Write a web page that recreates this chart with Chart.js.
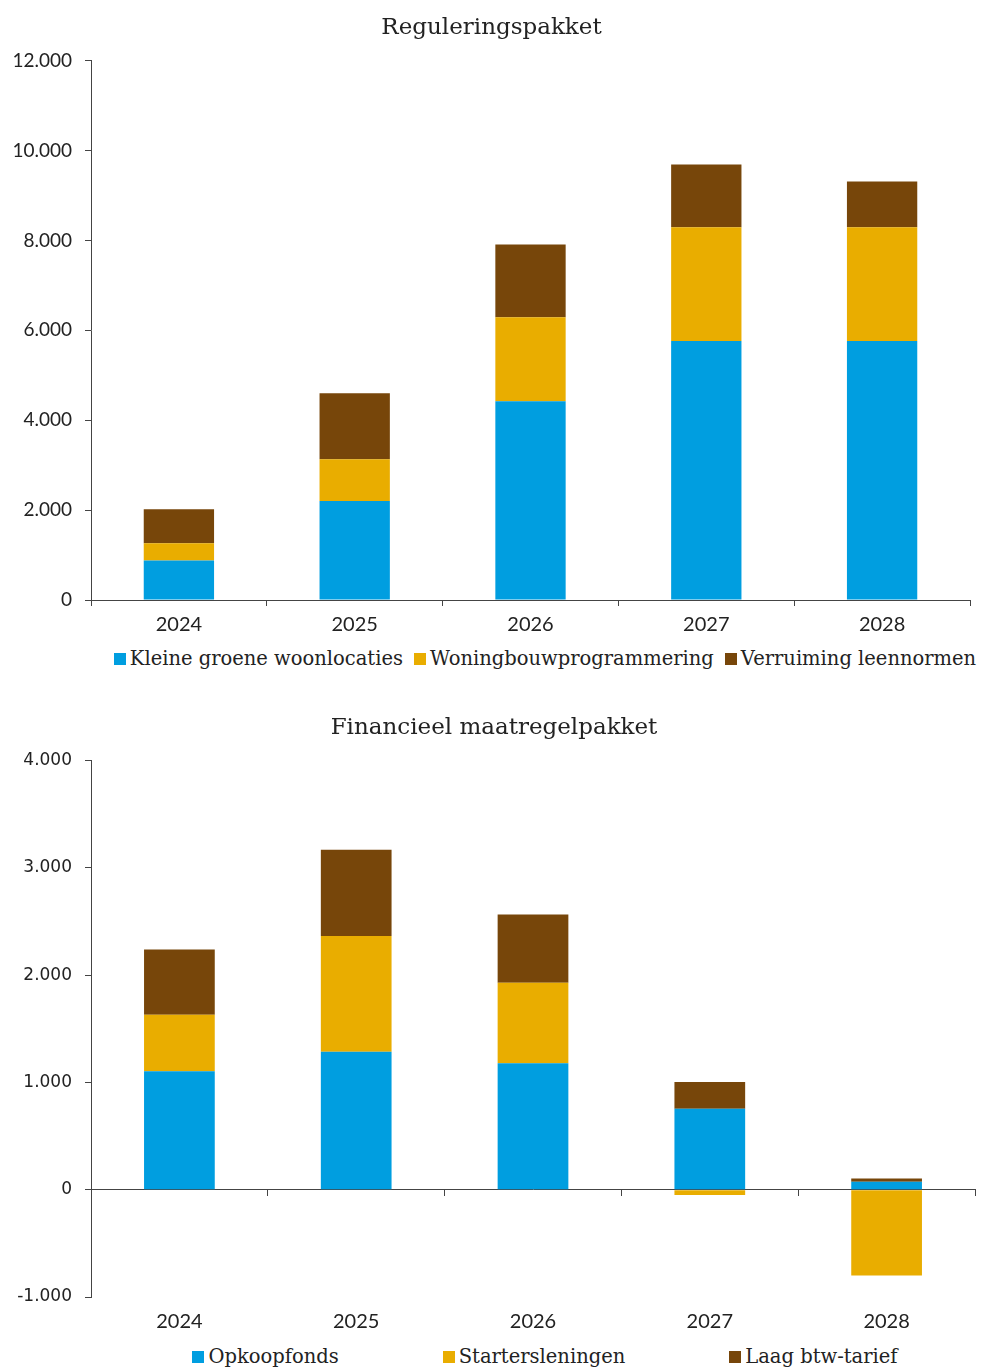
<!DOCTYPE html>
<html lang="nl">
<head>
  <meta charset="UTF-8">
  <title>Reguleringspakket en financieel maatregelpakket</title>
  <script src="https://cdn.jsdelivr.net/npm/chart.js"></script>
  <style>
    body {
      margin: 0;
      padding: 0;
      background: #fff;
      width: 981px;
      overflow: hidden;
    }
    .box {
      position: relative;
      width: 981px;
    }
    .legend {
      display: flex;
      justify-content: center;
      margin-left: 109px;
      font-family: "DejaVu Serif", serif;
      font-size: 19.5px;
      color: #222;
      white-space: nowrap;
      line-height: 24px;
      height: 24px;
    }
    .legend span.item {
      display: inline-flex;
      align-items: center;
    }
    .legend span.sw {
      display: inline-block;
      width: 12px;
      height: 12px;
      margin-right: 4px;
    }
  </style>
</head>
<body>
  <div class="box" style="height:636px"><canvas id="topChart"></canvas></div>
  <div class="legend" id="topLegend" style="margin-top:11px"></div>
  <div class="box" style="height:643px; margin-top:19px"><canvas id="bottomChart"></canvas></div>
  <div class="legend" id="bottomLegend" style="margin-top:12px"></div>

  <script>
    const years = ['2024', '2025', '2026', '2027', '2028'];

    // Reguleringspakket
    const kleineGroene = [880, 2200, 4420, 5760, 5760];
    const woningbouw = [380, 930, 1870, 2530, 2530];
    const leennormen = [760, 1470, 1620, 1400, 1020];

    // Financieel maatregelpakket
    const opkoopfonds = [1105, 1285, 1180, 755, 75];
    const starters = [525, 1080, 750, -50, -800];
    const btwTarief = [610, 805, 635, 250, 30];

    const blue = '#009ee0';
    const yellow = '#e9ad00';
    const brown = '#77460a';
    const axisColor = '#444';

    function fmt(v) {
      return String(v).replace(/\B(?=(\d{3})+(?!\d))/g, '.');
    }

    function makeLegend(id, datasets, gap) {
      const el = document.getElementById(id);
      el.innerHTML = '';
      datasets.forEach((ds, i) => {
        const s = document.createElement('span');
        s.className = 'item';
        if (i < datasets.length - 1) s.style.marginRight = gap + 'px';
        s.innerHTML = `<span class="sw" style="background:${ds.backgroundColor}"></span>${ds.label}`;
        el.appendChild(s);
      });
    }

    function bars(label, data, color) {
      return {
        label: label,
        data: data,
        backgroundColor: color,
        borderWidth: 0,
        barPercentage: 0.4,
        categoryPercentage: 1.0
      };
    }

    Chart.defaults.animation = false;
    Chart.defaults.color = '#222';

    const topSets = [
      bars('Kleine groene woonlocaties', kleineGroene, blue),
      bars('Woningbouwprogrammering', woningbouw, yellow),
      bars('Verruiming leennormen', leennormen, brown)
    ];

    new Chart(document.getElementById('topChart'), {
      type: 'bar',
      data: { labels: years, datasets: topSets },
      options: {
        responsive: true,
        maintainAspectRatio: false,
        layout: { padding: { left: 13, right: 11, top: 0, bottom: 0 } },
        plugins: {
          legend: { display: false },
          tooltip: { enabled: false },
          title: {
            display: true,
            text: 'Reguleringspakket',
            font: { family: 'DejaVu Serif', size: 23, weight: 'normal' },
            color: '#222',
            padding: { top: 14, bottom: 19 }
          }
        },
        scales: {
          x: {
            stacked: true,
            afterFit: s => { s.height = 36; },
            border: { display: true, color: axisColor, width: 1 },
            grid: { offset: true, drawOnChartArea: false, tickLength: 6, color: axisColor },
            ticks: { font: { family: 'Lato', size: 20 }, color: '#222', padding: 7 }
          },
          y: {
            stacked: true,
            min: 0,
            max: 12000,
            afterFit: s => { s.width = 78; },
            border: { display: true, color: axisColor, width: 1 },
            grid: { drawOnChartArea: false, tickLength: 6, color: axisColor },
            ticks: {
              stepSize: 2000,
              font: { family: 'Lato', size: 19 },
              color: '#222',
              padding: 13,
              callback: v => fmt(v)
            }
          }
        }
      }
    });
    makeLegend('topLegend', topSets, 11);

    const bottomSets = [
      bars('Opkoopfonds', opkoopfonds, blue),
      bars('Startersleningen', starters, yellow),
      bars('Laag btw-tarief', btwTarief, brown)
    ];

    new Chart(document.getElementById('bottomChart'), {
      type: 'bar',
      data: { labels: years, datasets: bottomSets },
      options: {
        responsive: true,
        maintainAspectRatio: false,
        layout: { padding: { left: 13, right: 6, top: 0, bottom: 0 } },
        plugins: {
          legend: { display: false },
          tooltip: { enabled: false },
          title: {
            display: true,
            text: 'Financieel maatregelpakket',
            font: { family: 'DejaVu Serif', size: 23, weight: 'normal' },
            color: '#222',
            padding: { top: 24, bottom: 19 }
          }
        },
        scales: {
          x: {
            stacked: true,
            afterFit: s => { s.height = 36; },
            border: { display: false },
            grid: { display: false, drawTicks: false },
            ticks: { font: { family: 'Lato', size: 20 }, color: '#222', padding: 13 }
          },
          zero: {
            axis: 'x',
            type: 'category',
            position: { y: 0 },
            offset: true,
            border: { display: true, color: axisColor, width: 1 },
            grid: { offset: true, drawOnChartArea: false, tickLength: 6, color: axisColor },
            ticks: { display: false }
          },
          y: {
            stacked: true,
            min: -1000,
            max: 4000,
            afterFit: s => { s.width = 78; },
            border: { display: true, color: axisColor, width: 1 },
            grid: { drawOnChartArea: false, tickLength: 6, color: axisColor },
            ticks: {
              stepSize: 1000,
              font: { family: 'DejaVu Sans', size: 17 },
              color: '#222',
              padding: 13,
              callback: v => fmt(v)
            }
          }
        }
      }
    });
    makeLegend('bottomLegend', bottomSets, 104);
  </script>
</body>
</html>
